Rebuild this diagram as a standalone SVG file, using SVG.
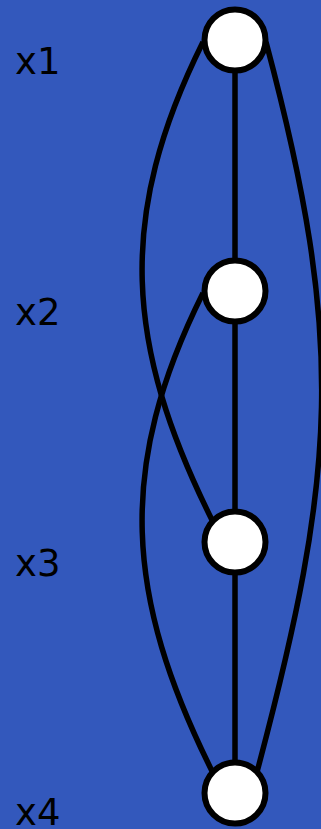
<svg xmlns="http://www.w3.org/2000/svg" width="321" height="829" viewBox="0 0 321 829">
<style>
.lbl{font-family:"DejaVu Sans",sans-serif;font-size:37px;fill:#000}
.e{fill:none;stroke:#000;stroke-width:5.5}
.n{fill:#fff;stroke:#000;stroke-width:6}
</style>
<rect x="0" y="0" width="321" height="829" fill="#3358bc"/>
<g id="labels">
<text class="lbl" x="15" y="74">x1</text>
<text class="lbl" x="15" y="325">x2</text>
<text class="lbl" x="15" y="576">x3</text>
<text class="lbl" x="15" y="825">x4</text>
</g>
<g id="edges">
<line class="e" x1="235" y1="40" x2="235" y2="291"/>
<line class="e" x1="235" y1="291" x2="235" y2="542"/>
<line class="e" x1="235" y1="542" x2="235" y2="793"/>
<path class="e" d="M203,42 C116,217 125,345 212,520"/>
<path class="e" d="M203,293 C116,468 125,596 212,771"/>
<path class="e" d="M266,42 C346,342 337,472 257,772"/>
</g>
<g id="node1"><circle class="n" cx="235" cy="40" r="30.5"/></g>
<g id="node2"><circle class="n" cx="235" cy="291" r="30.5"/></g>
<g id="node3"><circle class="n" cx="235" cy="542" r="30.5"/></g>
<g id="node4"><circle class="n" cx="235" cy="793" r="30.5"/></g>
</svg>
